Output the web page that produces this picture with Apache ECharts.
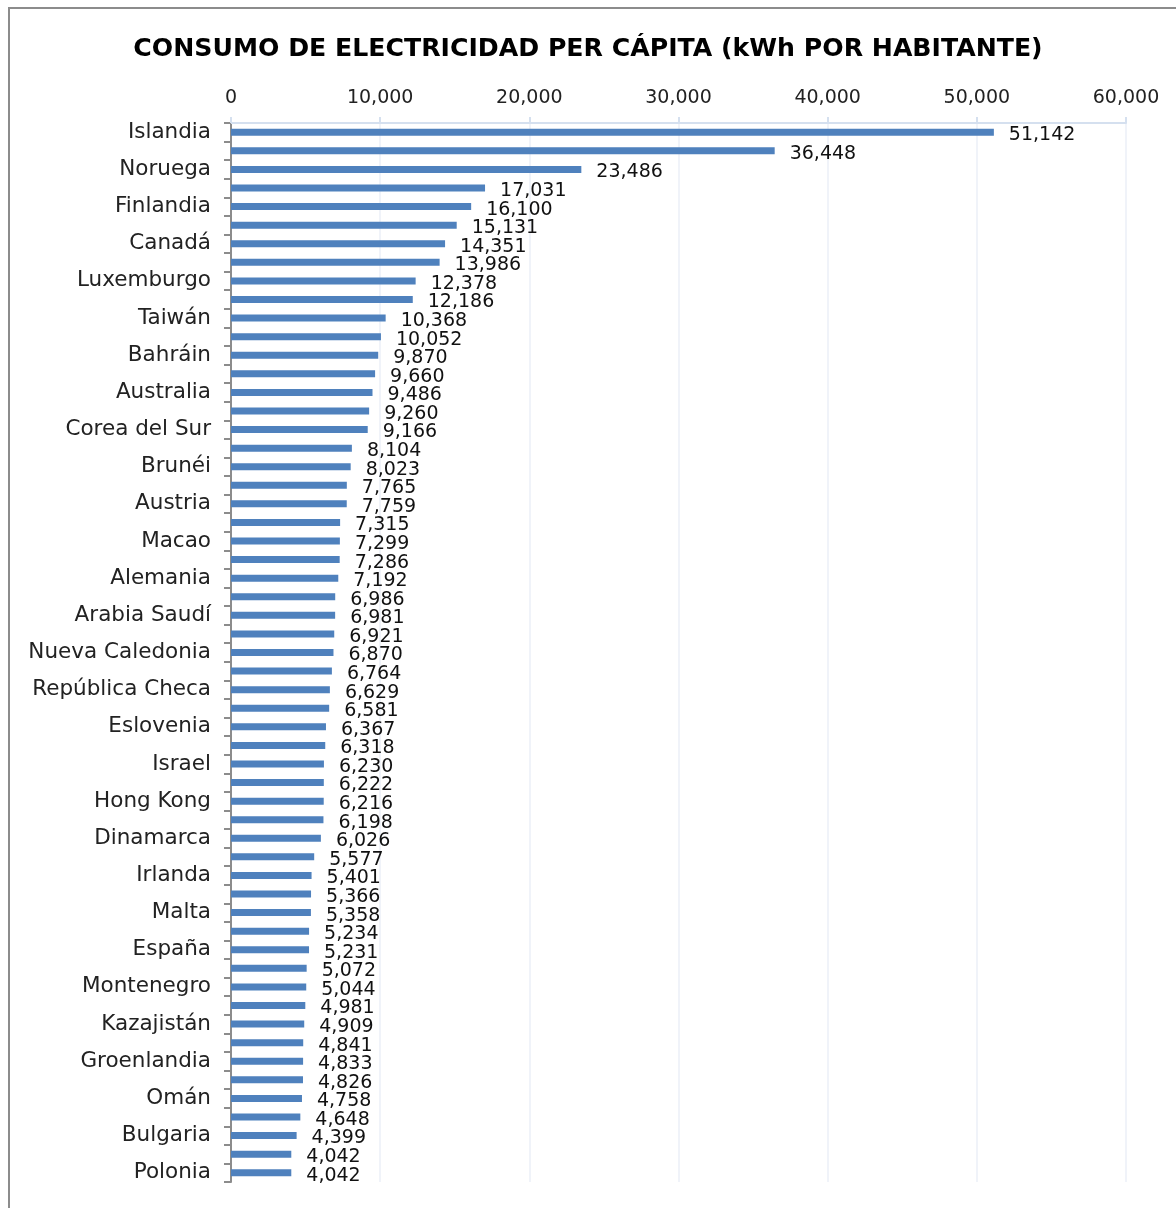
<!DOCTYPE html>
<html>
<head>
<meta charset="utf-8">
<script src="https://cdn.jsdelivr.net/npm/echarts@6/dist/echarts.min.js"></script>
<style>
  html, body { margin: 0; padding: 0; background: #fff; }
  #main { width: 1176px; height: 1208px; }
</style>
</head>
<body>
<div id="main"></div>
<script>
// countries, top to bottom (only every second name is printed on the axis)
const countries = [
  'Islandia', 'Liechtenstein', 'Noruega', 'Kuwait', 'Finlandia', 'Catar',
  'Canadá', 'Estados Unidos', 'Luxemburgo', 'Suecia', 'Taiwán', 'Emiratos Árabes Unidos',
  'Bahráin', 'Islas Feroe', 'Australia', 'Singapur', 'Corea del Sur', 'Nueva Zelanda',
  'Brunéi', 'Bélgica', 'Austria', 'Suiza', 'Macao', 'Japón',
  'Alemania', 'Francia', 'Arabia Saudí', 'Países Bajos', 'Nueva Caledonia', 'Eslovaquia',
  'República Checa', 'Rusia', 'Eslovenia', 'Estonia', 'Israel', 'Guam',
  'Hong Kong', 'Chipre', 'Dinamarca', 'Reino Unido', 'Irlanda', 'Italia',
  'Malta', 'Grecia', 'España', 'Portugal', 'Montenegro', 'Serbia',
  'Kazajistán', 'Sudáfrica', 'Groenlandia', 'Bielorrusia', 'Omán', 'Lituania',
  'Bulgaria', 'Hungría', 'Polonia'
]
// kWh per inhabitant
const consumo = [
  51142, 36448, 23486, 17031, 16100, 15131,
  14351, 13986, 12378, 12186, 10368, 10052,
  9870, 9660, 9486, 9260, 9166, 8104,
  8023, 7765, 7759, 7315, 7299, 7286,
  7192, 6986, 6981, 6921, 6870, 6764,
  6629, 6581, 6367, 6318, 6230, 6222,
  6216, 6198, 6026, 5577, 5401, 5366,
  5358, 5234, 5231, 5072, 5044, 4981,
  4909, 4841, 4833, 4826, 4758, 4648,
  4399, 4042, 4042
]
const axisMin = 0
const axisMax = 60000
const axisStep = 10000

const FONT = 'DejaVu Sans'
const fmt = v => Number(v).toLocaleString('en-US')

const chart = echarts.init(document.getElementById('main'))
const option = {
  backgroundColor: '#fff',
  animation: false,
  title: {
    text: 'CONSUMO DE ELECTRICIDAD PER CÁPITA (kWh POR HABITANTE)',
    left: 'center',
    top: 32,
    textStyle: { fontFamily: 'DejaVu Sans', fontWeight: 'bold', fontSize: 25.2, color: '#000' }
  },
  graphic: [
    {
      type: 'polyline',
      shape: { points: [[9, 1210], [9, 8], [1180, 8]] },
      style: { stroke: '#8c8c8c', lineWidth: 2, fill: null }
    }
  ],
  grid: { left: 231, right: 50, top: 123, bottom: 26, containLabel: false },
  xAxis: {
    type: 'value',
    position: 'top',
    min: axisMin,
    max: axisMax,
    interval: axisStep,
    axisLine: { show: true, lineStyle: { color: '#d5e0ef', width: 2 } },
    axisTick: { show: true, length: 6, lineStyle: { color: '#d5e0ef', width: 2 } },
    axisLabel: { formatter: fmt, fontFamily: FONT, fontSize: 19, color: '#222', margin: 15 },
    splitLine: { show: true, lineStyle: { color: '#f0f3f9', width: 2 } }
  },
  yAxis: {
    type: 'category',
    inverse: true,
    data: countries,
    axisLine: { show: true, lineStyle: { color: '#8c8c8c', width: 2 } },
    axisTick: { show: true, interval: 0, length: 7, lineStyle: { color: '#8c8c8c', width: 2 } },
    axisLabel: { interval: 1, fontFamily: FONT, fontSize: 21.5, color: '#222', margin: 20, padding: [5, 0, 0, 0] },
    splitLine: { show: false }
  },
  series: [
    {
      type: 'bar',
      data: consumo,
      barWidth: 7,
      itemStyle: { color: '#4f81bd' },
      label: {
        show: true,
        position: 'right',
        distance: 15,
        offset: [0, 3],
        formatter: p => fmt(p.value),
        fontFamily: FONT,
        fontSize: 19,
        color: '#111'
      }
    }
  ]
}
chart.setOption(option)
</script>
</body>
</html>
